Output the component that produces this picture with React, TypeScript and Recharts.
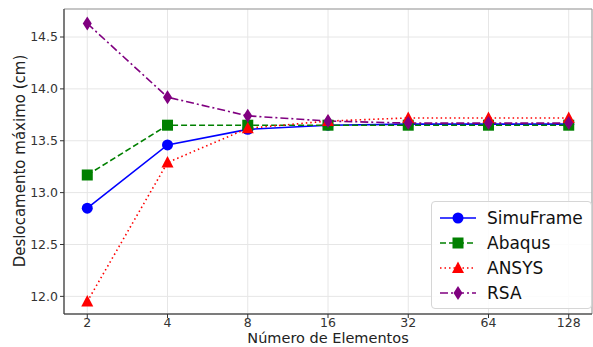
import React from "react";
import {
  LineChart,
  Line,
  XAxis,
  YAxis,
  CartesianGrid,
  ReferenceArea,
} from "recharts";

const elementCounts = ["2", "4", "8", "16", "32", "64", "128"];
const simuFrame = [12.85, 13.46, 13.61, 13.65, 13.66, 13.66, 13.66];
const abaqus = [13.17, 13.65, 13.65, 13.65, 13.65, 13.65, 13.65];
const ansys = [11.95, 13.29, 13.62, 13.69, 13.72, 13.72, 13.72];
const rsa = [14.63, 13.92, 13.74, 13.69, 13.67, 13.67, 13.67];
const yTicks = [12.0, 12.5, 13.0, 13.5, 14.0, 14.5];

const X_MIN = -0.29;
const X_MAX = 6.29;
const Y_MIN = 11.83;
const Y_MAX = 14.77;

const FONT = "'DejaVu Sans', sans-serif";

type MarkerKind = "circle" | "square" | "triangle" | "diamond";

interface SeriesDef {
  key: string;
  name: string;
  color: string;
  dash?: string;
  marker: MarkerKind;
}

const SERIES: SeriesDef[] = [
  { key: "simu", name: "SimuFrame", color: "#0000ff", marker: "circle" },
  { key: "abaqus", name: "Abaqus", color: "#008000", dash: "6 3", marker: "square" },
  { key: "ansys", name: "ANSYS", color: "#ff0000", dash: "1.5 3", marker: "triangle" },
  { key: "rsa", name: "RSA", color: "#800080", dash: "8 3 2 3", marker: "diamond" },
];

const data = elementCounts.map((label, i) => ({
  idx: i,
  label,
  simu: simuFrame[i],
  abaqus: abaqus[i],
  ansys: ansys[i],
  rsa: rsa[i],
}));

function Marker({ kind, cx, cy, color }: { kind: MarkerKind; cx: number; cy: number; color: string }) {
  if (kind === "circle") return <circle cx={cx} cy={cy} r={5.5} fill={color} />;
  if (kind === "square")
    return <rect x={cx - 5.5} y={cy - 5.5} width={11} height={11} fill={color} />;
  if (kind === "triangle")
    return (
      <polygon
        points={`${cx},${cy - 6.5} ${cx + 6},${cy + 5} ${cx - 6},${cy + 5}`}
        fill={color}
      />
    );
  return (
    <polygon
      points={`${cx},${cy - 7} ${cx + 4.5},${cy} ${cx},${cy + 7} ${cx - 4.5},${cy}`}
      fill={color}
    />
  );
}

function makeDot(s: SeriesDef) {
  return (props: any) => {
    const { cx, cy, index } = props;
    if (cx == null || cy == null) return <g key={`${s.key}-${index}`} />;
    return (
      <g key={`${s.key}-${index}`}>
        <Marker kind={s.marker} cx={cx} cy={cy} color={s.color} />
      </g>
    );
  };
}

function LegendBox() {
  return (
    <div
      style={{
        position: "absolute",
        left: 431,
        top: 201,
        width: 161,
        boxSizing: "border-box",
        background: "rgba(255,255,255,0.85)",
        border: "1px solid #d6d6d6",
        borderRadius: 4,
        padding: "3px 8px 3px 6px",
        fontFamily: FONT,
        fontSize: 17,
        color: "#111",
      }}
    >
      {SERIES.map((s) => (
        <div key={s.key} style={{ display: "flex", alignItems: "center", height: 25 }}>
          <svg width={40} height={20} style={{ marginRight: 9 }}>
            <line
              x1={2}
              y1={10}
              x2={38}
              y2={10}
              stroke={s.color}
              strokeWidth={1.6}
              strokeDasharray={s.dash}
            />
            <Marker kind={s.marker} cx={20} cy={10} color={s.color} />
          </svg>
          <span>{s.name}</span>
        </div>
      ))}
    </div>
  );
}

const YLabel = () => (
  <text
    x={20}
    y={161}
    transform="rotate(-90 20 161)"
    textAnchor="middle"
    dominantBaseline="central"
    fontSize={15}
    fill="#222"
    fontFamily={FONT}
  >
    Deslocamento máximo (cm)
  </text>
);

const XLabel = () => (
  <text x={328} y={343} textAnchor="middle" fontSize={14.5} fill="#222" fontFamily={FONT}>
    Número de Elementos
  </text>
);

export default function App() {
  return (
    <div style={{ position: "absolute", left: 0, top: 0, width: 593, height: 347, background: "#fff" }}>
      <LineChart
        width={593}
        height={347}
        data={data}
        margin={{ top: 9, right: 1, bottom: 0, left: 0 }}
        style={{ fontFamily: FONT }}
      >
        <CartesianGrid stroke="#e6e6e6" strokeWidth={1} />
        <XAxis
          type="number"
          dataKey="idx"
          domain={[X_MIN, X_MAX]}
          ticks={[0, 1, 2, 3, 4, 5, 6]}
          tickFormatter={(v: number) => elementCounts[v] ?? ""}
          height={33}
          tickSize={4}
          tick={{ fontSize: 12.5, fill: "#333", fontFamily: FONT, dy: -2 }}
          axisLine={{ stroke: "#333", strokeWidth: 1 }}
          tickLine={{ stroke: "#333" }}
          allowDataOverflow
          label={{ content: () => <XLabel /> }}
        />
        <YAxis
          type="number"
          domain={[Y_MIN, Y_MAX]}
          ticks={yTicks}
          tickFormatter={(v: number) => v.toFixed(1)}
          width={64}
          tickSize={4}
          tick={{ fontSize: 12.5, fill: "#333", fontFamily: FONT }}
          axisLine={{ stroke: "#333", strokeWidth: 1 }}
          tickLine={{ stroke: "#333" }}
          allowDataOverflow
          label={{ content: () => <YLabel /> }}
        />
        <ReferenceArea
          x1={X_MIN}
          x2={X_MAX}
          y1={Y_MIN}
          y2={Y_MAX}
          fill="none"
          stroke="#999"
          strokeWidth={1}
          ifOverflow="visible"
        />
        {SERIES.map((s) => (
          <Line
            key={s.key}
            type="linear"
            dataKey={s.key}
            name={s.name}
            stroke={s.color}
            strokeWidth={1.6}
            strokeDasharray={s.dash}
            dot={makeDot(s)}
            activeDot={false}
            isAnimationActive={false}
          />
        ))}
      </LineChart>
      <LegendBox />
    </div>
  );
}
